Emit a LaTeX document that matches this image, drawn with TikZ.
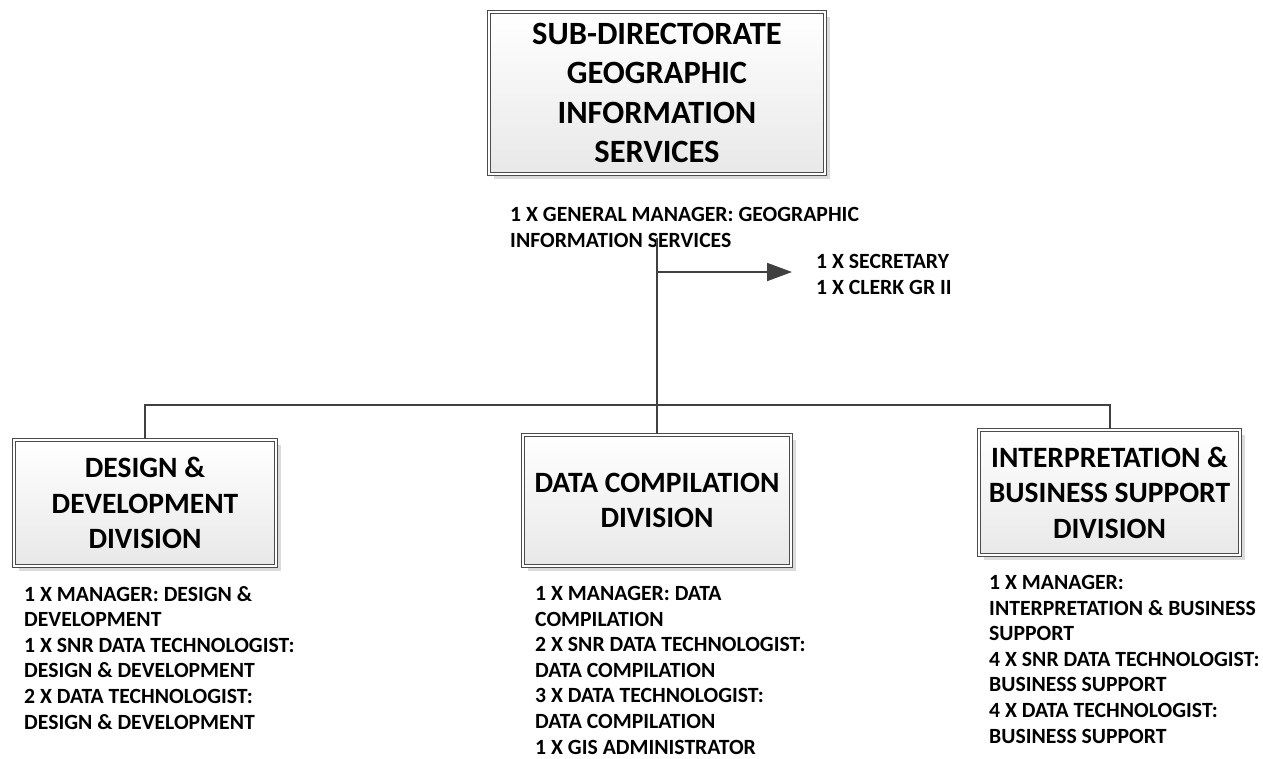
\documentclass[tikz,border=0pt]{standalone}
\usepackage{fontspec}
\setmainfont{Carlito}
\usepackage{tikz}
\usetikzlibrary{arrows.meta}
\usetikzlibrary{shadows}

\tikzset{
    unitbox/.style={draw=black!70, double=white, double distance=2.4pt, line width=1.1pt,
        top color=white, bottom color=black!9, inner sep=0pt, align=center,
        drop shadow={shadow xshift=5pt, shadow yshift=-5pt, fill=black!14, opacity=1}},
    staff/.style={anchor=north west, inner sep=0pt, align=left,
        font=\fontsize{21.7}{25.6}\selectfont\bfseries},
    link/.style={draw=black!75, line width=2pt}
}

\begin{document}
\begin{tikzpicture}[x=1pt, y=-1pt]
        \useasboundingbox (0,0) rectangle (1263,758);

        \node[unitbox, minimum width=336pt, minimum height=162pt,
            font=\fontsize{32.5}{39.5}\selectfont\bfseries] (gis) at (657,93)
            {SUB-DIRECTORATE\\GEOGRAPHIC\\INFORMATION\\SERVICES};
        \node[unitbox, minimum width=262pt, minimum height=126pt,
            font=\fontsize{29.5}{35.5}\selectfont\bfseries] (design) at (145,503)
            {DESIGN \&\\DEVELOPMENT\\DIVISION};
        \node[unitbox, minimum width=268pt, minimum height=131pt,
            font=\fontsize{29.5}{35.5}\selectfont\bfseries] (data) at (657,500.5)
            {DATA COMPILATION\\DIVISION};
        \node[unitbox, minimum width=261pt, minimum height=125pt,
            font=\fontsize{29.5}{35.5}\selectfont\bfseries] (interp) at (1109.5,492.5)
            {INTERPRETATION \&\\BUSINESS SUPPORT\\DIVISION};

        \node[staff] (gm) at (510,207)
            {1 X GENERAL MANAGER: GEOGRAPHIC\\INFORMATION SERVICES};
        \node[staff] (sec) at (816,254) {1 X SECRETARY\\1 X CLERK GR II};
        \node[staff] (designstaff) at (24,586)
            {1 X MANAGER: DESIGN \&\\DEVELOPMENT\\1 X SNR DATA TECHNOLOGIST:\\DESIGN \& DEVELOPMENT\\2 X DATA TECHNOLOGIST:\\DESIGN \& DEVELOPMENT};
        \node[staff] (datastaff) at (535,586)
            {1 X MANAGER: DATA\\COMPILATION\\2 X SNR DATA TECHNOLOGIST:\\DATA COMPILATION\\3 X DATA TECHNOLOGIST:\\DATA COMPILATION\\1 X GIS ADMINISTRATOR};
        \node[staff] (interpstaff) at (989,575)
            {1 X MANAGER:\\INTERPRETATION \& BUSINESS\\SUPPORT\\4 X SNR DATA TECHNOLOGIST:\\BUSINESS SUPPORT\\4 X DATA TECHNOLOGIST:\\BUSINESS SUPPORT};

        \coordinate (stem) at (657,238);
        \coordinate (branch) at (657,272);
        \coordinate (bus) at (657,405);

        \draw[link] (stem) -- (bus);
        \draw[link] (bus) -| (design.north);
        \draw[link] (bus) -| (interp.north);
        \draw[link] (bus) -- (data.north);
        \draw[link, -{Triangle[length=25pt, width=18pt]}, shorten >=24pt] (branch) -- (branch -| sec.west);
    \end{tikzpicture}
\end{document}
